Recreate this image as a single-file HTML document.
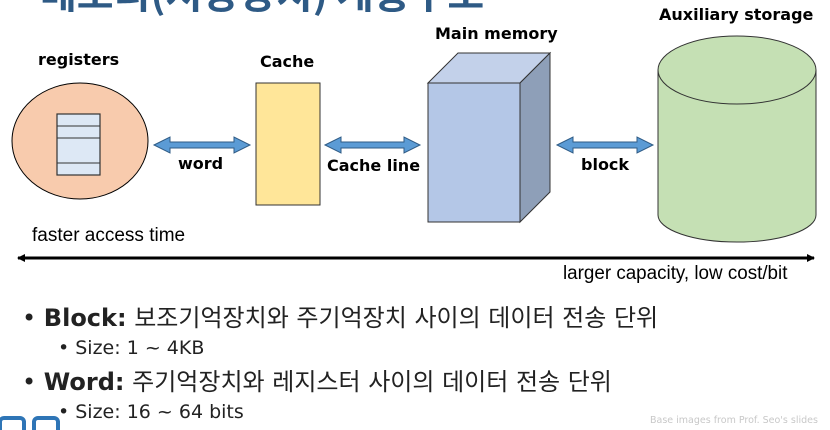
<!DOCTYPE html>
<html><head><meta charset="utf-8"><style>
body{margin:0;width:830px;height:430px;overflow:hidden;background:#fff;font-family:"DejaVu Sans","Noto Sans CJK KR",sans-serif;}
.t{position:absolute;white-space:nowrap;}
.l{font-size:16px;font-weight:bold;}
.c{font-family:"Liberation Sans Narrow","Liberation Sans",sans-serif;transform-origin:0 0;}
</style></head><body>
<svg width="830" height="430" style="position:absolute;left:0;top:0">
<defs>
<marker id="a" markerWidth="8" markerHeight="8" refX="7" refY="4" orient="auto-start-reverse" markerUnits="userSpaceOnUse"><path d="M0,0L8,4L0,8z" fill="#000"/></marker>
</defs>
<text x="40" y="8" font-size="40" fill="#2e5a85" font-weight="bold" font-family="Noto Sans CJK KR,sans-serif">메모리(저장장치) 계층구조</text>
<ellipse cx="80" cy="141" rx="68" ry="58" fill="#f8cbad" stroke="#000"/>
<rect x="57" y="114" width="43" height="61" fill="#dde8f5" stroke="#333" stroke-width="1.2"/>
<line x1="57" y1="126" x2="100" y2="126" stroke="#333"/>
<line x1="57" y1="138" x2="100" y2="138" stroke="#333"/>
<line x1="57" y1="163" x2="100" y2="163" stroke="#333"/>
<rect x="256" y="83" width="64" height="122" fill="#ffe699" stroke="#333"/>
<polygon points="428,83 458,53 550,53 520,83" fill="#c3d1ea" stroke="#333"/>
<polygon points="520,83 550,53 550,192 520,222" fill="#8e9fb8" stroke="#333"/>
<rect x="428" y="83" width="92" height="139" fill="#b4c7e7" stroke="#333"/>
<path d="M658,70 V215 A79,27 0 0 0 816,215 V70" fill="#c5e0b4" stroke="#333"/>
<ellipse cx="737" cy="70" rx="79" ry="34" fill="#c5e0b4" stroke="#333"/>
<g fill="#5b9bd5" stroke="#2f5b85" stroke-width="1">
<path d="M154,145 l16,-8 v5 h64 v-5 l16,8 l-16,8 v-5 h-64 v5z"/>
<path d="M325,145 l16,-8 v5 h63 v-5 l16,8 l-16,8 v-5 h-63 v5z"/>
<path d="M557,145 l16,-8 v5 h64 v-5 l16,8 l-16,8 v-5 h-64 v5z"/>
</g>
<line x1="18" y1="258" x2="814" y2="258" stroke="#000" stroke-width="3" marker-start="url(#a)" marker-end="url(#a)"/>
<rect x="0" y="418" width="24" height="16" rx="4" fill="none" stroke="#2e75b6" stroke-width="4"/>
<rect x="34" y="418" width="24" height="16" rx="4" fill="none" stroke="#2e75b6" stroke-width="4"/>
</svg>
<div class="t l" style="left:38px;top:50px">registers</div>
<div class="t l" style="left:260px;top:52px">Cache</div>
<div class="t l" style="left:435px;top:24px">Main memory</div>
<div class="t l" style="left:659px;top:5px">Auxiliary storage</div>
<div class="t l" style="left:178px;top:154px">word</div>
<div class="t l" style="left:327px;top:156px">Cache line</div>
<div class="t l" style="left:581px;top:155px">block</div>
<div class="t c" style="left:32px;top:225px;font-size:19px">faster access time</div>
<div class="t c" style="left:563px;top:263px;font-size:19px;transform:scaleX(0.99)">larger capacity, low cost/bit</div>
<div class="t" style="left:22px;top:298px;font-size:24px;color:#222">• <b>Block:</b> 보조기억장치와 주기억장치 사이의 데이터 전송 단위</div>
<div class="t" style="left:58px;top:337px;font-size:19px;color:#222">• Size: 1 ~ 4KB</div>
<div class="t" style="left:22px;top:362px;font-size:24px;color:#222">• <b>Word:</b> 주기억장치와 레지스터 사이의 데이터 전송 단위</div>
<div class="t" style="left:58px;top:401px;font-size:19px;color:#222">• Size: 16 ~ 64 bits</div>
<div class="t" style="left:650px;top:415px;font-size:9.5px;color:#c8c8c8">Base images from Prof. Seo's slides</div>
</body></html>
